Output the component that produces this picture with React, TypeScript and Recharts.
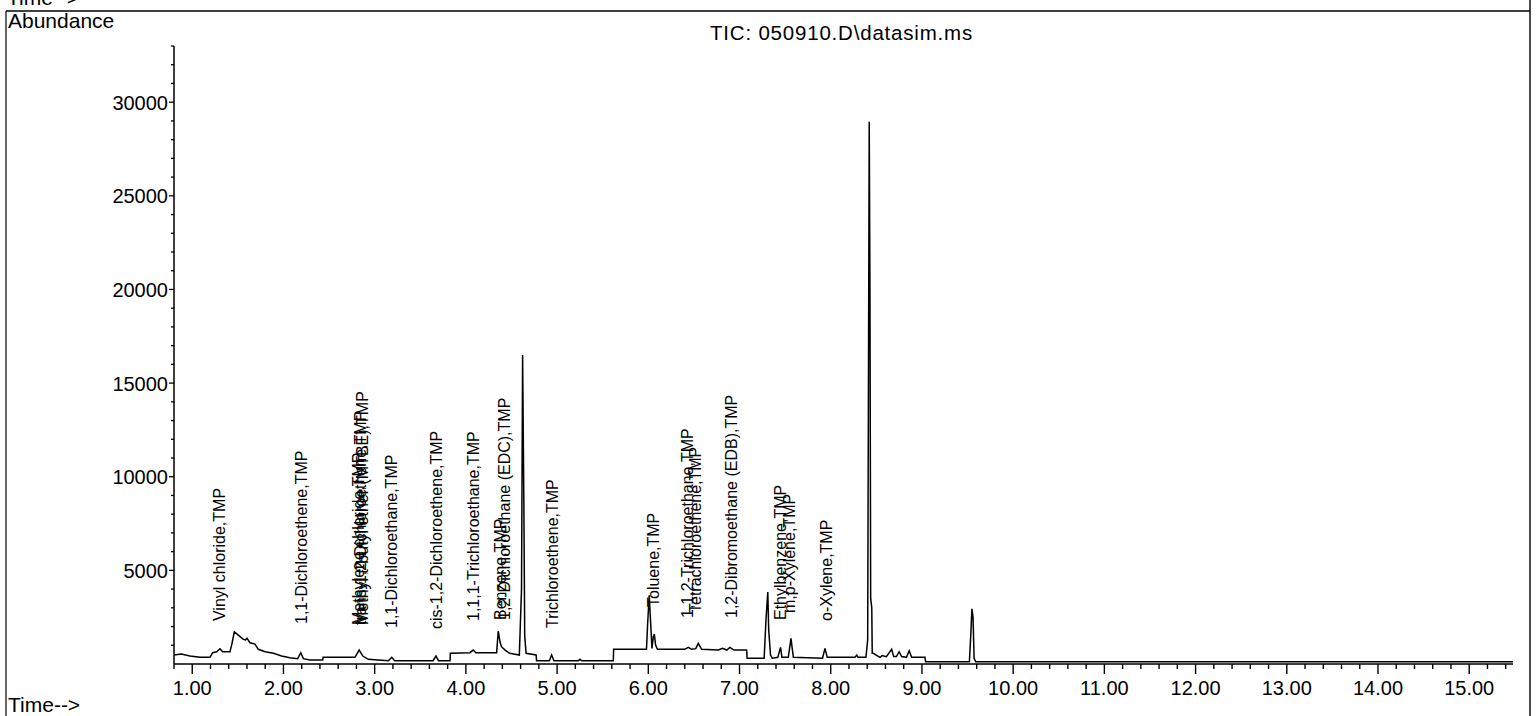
import React from 'react';
import { ComposedChart, Line, Scatter, XAxis, YAxis } from 'recharts';

const FONT = '"Liberation Sans", Arial, Helvetica, sans-serif';

// Total ion chromatogram trace: retention time (min)
const traceTime = [
  0.8, 0.88, 0.975, 1.085, 1.195, 1.224, 1.268, 1.304, 1.334, 1.414,
  1.436, 1.461, 1.505, 1.56, 1.585, 1.6, 1.633, 1.688, 1.724, 1.8,
  1.89, 1.98, 2.07, 2.156, 2.19, 2.218, 2.29, 2.43, 2.435, 2.784,
  2.83, 2.87, 2.93, 3.15, 3.187, 3.22, 3.64, 3.672, 3.7, 3.826,
  3.83, 4.045, 4.08, 4.11, 4.337, 4.355, 4.374, 4.39, 4.43, 4.48,
  4.586, 4.61, 4.622, 4.635, 4.645, 4.66, 4.77, 4.775, 4.915, 4.94,
  4.966, 5.232, 5.25, 5.27, 5.616, 5.62, 5.98, 5.993, 6.01, 6.026,
  6.04, 6.055, 6.066, 6.08, 6.1, 6.4, 6.438, 6.475, 6.52, 6.548,
  6.585, 6.767, 6.815, 6.86, 6.895, 6.94, 7.078, 7.083, 7.27, 7.29,
  7.31, 7.32, 7.34, 7.36, 7.42, 7.45, 7.465, 7.535, 7.564, 7.59,
  7.91, 7.937, 7.962, 8.266, 8.285, 8.3, 8.386, 8.405, 8.413, 8.422,
  8.43, 8.438, 8.45, 8.455, 8.466, 8.54, 8.565, 8.61, 8.668, 8.69,
  8.72, 8.75, 8.778, 8.83, 8.86, 8.887, 9.033, 9.04, 9.52, 9.535,
  9.548, 9.56, 9.572, 9.59, 15.48,
];

// Abundance at each retention time
const traceAbundance = [
  480, 535, 425, 355, 355, 605, 655, 815, 655, 655,
  1105, 1720, 1545, 1315, 1290, 1380, 1135, 1065, 785, 655,
  570, 425, 335, 285, 605, 285, 215, 215, 355, 355,
  745, 425, 250, 175, 355, 175, 175, 425, 175, 175,
  570, 605, 745, 605, 605, 1755, 1185, 925, 745, 570,
  480, 4000, 16500, 9000, 1500, 570, 480, 175, 175, 480,
  175, 175, 250, 175, 175, 785, 785, 2165, 3675, 2165,
  835, 1455, 1595, 1015, 785, 785, 890, 785, 820, 1105,
  785, 745, 835, 745, 890, 745, 745, 305, 305, 2345,
  3845, 1815, 480, 305, 355, 890, 355, 355, 1365, 355,
  305, 835, 355, 355, 480, 355, 355, 1275, 14000, 28950,
  20000, 3500, 3000, 570, 570, 355, 450, 395, 785, 395,
  395, 655, 395, 355, 710, 355, 355, 120, 120, 1500,
  2950, 2500, 300, 120, 120,
];

// Compound annotations
const peakNames = [
  'Vinyl chloride,TMP',
  '1,1-Dichloroethene,TMP',
  'Methylene chloride,TMP',
  'trans-1,2-Dichloroethene,TMP',
  'Methyl t-butyl ether (MTBE),TMP',
  '1,1-Dichloroethane,TMP',
  'cis-1,2-Dichloroethene,TMP',
  '1,1,1-Trichloroethane,TMP',
  'Benzene,TMP',
  '1,2-Dichloroethane (EDC),TMP',
  'Trichloroethene,TMP',
  'Toluene,TMP',
  '1,1,2-Trichloroethane,TMP',
  'Tetrachloroethene,TMP',
  '1,2-Dibromoethane (EDB),TMP',
  'Ethylbenzene,TMP',
  'm,p-Xylene,TMP',
  'o-Xylene,TMP',
];
const peakTimes = [
  1.293, 2.198, 2.817, 2.839, 2.861, 3.179, 3.672, 4.078, 4.374, 4.418,
  4.944, 6.05, 6.424, 6.512, 6.906, 7.447, 7.546, 7.951,
];
const peakLabelBase = [
  2296, 2136, 2083, 2083, 2083, 1922, 1869, 2296, 2350, 2350,
  1922, 3044, 2456, 2723, 2456, 2350, 2723, 2296,
];

const xMajorTicks = [1, 2, 3, 4, 5, 6, 7, 8, 9, 10, 11, 12, 13, 14, 15];
const xTicks: number[] = [];
for (let i = 0; i <= 73; i++) xTicks.push(Math.round((0.8 + i * 0.2) * 100) / 100);
const yMajorTicks = [5000, 10000, 15000, 20000, 25000, 30000];
const yTicks: number[] = [];
for (let i = 1; i <= 33; i++) yTicks.push(i * 1000);

const traceData = traceTime.map((t, i) => ({ t, a: traceAbundance[i] }));
const labelData = peakTimes.map((t, i) => ({ t, a: peakLabelBase[i], name: peakNames[i] }));

const XTick = (props: any) => {
  const { x, y, payload } = props;
  const v = payload.value as number;
  const major = xMajorTicks.some((m) => Math.abs(m - v) < 1e-6);
  return (
    <g>
      <line x1={x} x2={x} y1={y} y2={y + (major ? 10 : 5)} stroke="#000" strokeWidth={1.4} />
      {major && (
        <text x={x} y={y + 31} textAnchor="middle" fontSize={20} fontFamily={FONT} fill="#000">
          {v.toFixed(2)}
        </text>
      )}
    </g>
  );
};

const YTick = (props: any) => {
  const { x, y, payload } = props;
  const v = payload.value as number;
  const major = yMajorTicks.includes(v);
  return (
    <g>
      <line x1={x - (major ? 5 : 3)} x2={x} y1={y} y2={y} stroke="#000" strokeWidth={1.3} />
      {major && (
        <text x={x - 6} y={y + 7.5} textAnchor="end" fontSize={20} fontFamily={FONT} fill="#000">
          {v}
        </text>
      )}
    </g>
  );
};

const LabelShape = (props: any) => {
  const { cx, cy, payload } = props;
  if (cx == null || cy == null) return <g />;
  return (
    <text
      x={cx}
      y={cy}
      dy="0.36em"
      transform={`rotate(-90 ${cx} ${cy})`}
      fontSize={16}
      fontFamily={FONT}
      fill="#000"
      textAnchor="start"
    >
      {payload.name}
    </text>
  );
};

export default function App() {
  return (
    <div
      style={{
        position: 'fixed',
        left: 0,
        top: 0,
        width: 1537,
        height: 716,
        background: '#fff',
        overflow: 'hidden',
      }}
    >
      <ComposedChart
        width={1537}
        height={716}
        margin={{ top: 46, right: 24, bottom: 12, left: 114 }}
      >
        <XAxis
          dataKey="t"
          type="number"
          domain={[0.8, 15.48]}
          allowDataOverflow
          ticks={xTicks}
          interval={0}
          tick={<XTick />}
          tickLine={false}
          tickSize={0}
          tickMargin={0}
          height={40}
          axisLine={{ stroke: '#000', strokeWidth: 1.5 }}
        />
        <YAxis
          type="number"
          domain={[0, 33000]}
          allowDataOverflow
          ticks={yTicks}
          interval={0}
          tick={<YTick />}
          tickLine={false}
          tickSize={0}
          tickMargin={0}
          width={60}
          axisLine={{ stroke: '#000', strokeWidth: 1.5 }}
        />
        <Line
          data={traceData}
          dataKey="a"
          type="linear"
          stroke="#000"
          strokeWidth={1.5}
          dot={false}
          activeDot={false}
          isAnimationActive={false}
        />
        <Scatter
          data={labelData}
          dataKey="a"
          shape={<LabelShape />}
          isAnimationActive={false}
        />
      </ComposedChart>
      <svg
        width={1537}
        height={716}
        style={{ position: 'absolute', left: 0, top: 0, pointerEvents: 'none' }}
      >
        <line x1={6} y1={11} x2={1530} y2={11} stroke="#000" strokeWidth={1.6} />
        <line x1={6} y1={11} x2={6} y2={716} stroke="#000" strokeWidth={1.2} />
        <line x1={1530} y1={0} x2={1530} y2={716} stroke="#000" strokeWidth={1.4} />
        <text x={7} y={5} fontSize={21} fontFamily={FONT} fill="#000">Time--&gt;</text>
        <text x={8} y={28} fontSize={21} fontFamily={FONT} fill="#000">Abundance</text>
        <text x={8} y={712} fontSize={21} fontFamily={FONT} fill="#000">Time--&gt;</text>
        <text x={710} y={40} fontSize={20.5} letterSpacing={0.8} fontFamily={FONT} fill="#000">
          {'TIC: 050910.D\\datasim.ms'}
        </text>
      </svg>
    </div>
  );
}
